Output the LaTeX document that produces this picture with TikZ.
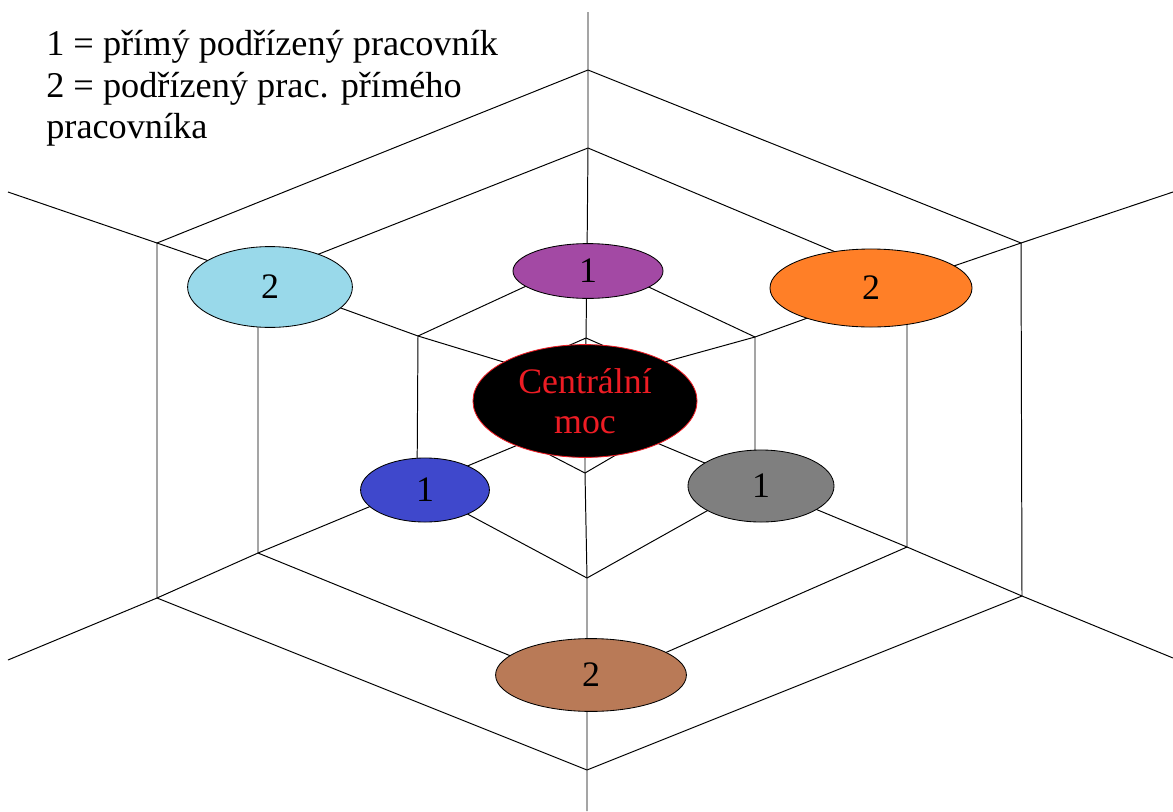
\documentclass[tikz,border=0pt]{standalone}
\usepackage{fontspec}
\setmainfont{Liberation Serif}
\usetikzlibrary{shapes.geometric}
\definecolor{lilac}{RGB}{163,73,164}
\definecolor{turquoise}{RGB}{153,217,234}
\definecolor{paintorange}{RGB}{255,127,39}
\definecolor{indigo}{RGB}{63,72,204}
\definecolor{paintgray}{RGB}{127,127,127}
\definecolor{paintbrown}{RGB}{185,122,87}
\definecolor{powerred}{RGB}{237,28,36}

\begin{document}
\begin{tikzpicture}[
        x=0.025cm, y=-0.025cm,
        web/.style={draw=black, line width=0.7pt, line join=round},
        member/.style={ellipse, draw=black, line width=0.6pt, inner sep=0pt, text=black, font=\fontsize{25.5}{29}\selectfont},
        core/.style={ellipse, draw=powerred, line width=0.6pt, fill=black, inner sep=0pt, text=powerred, align=center, font=\fontsize{25.5}{28.5}\selectfont},
        legend/.style={inner sep=0pt, align=left, font=\fontsize{25.8}{29.5}\selectfont}
    ]
    \useasboundingbox (0,0) rectangle (1173,811);

    % Centre of the web
    \coordinate (c) at (585,401);

    % Vertices: ring 0 (inner) to ring 3 (outer), then the free spoke ends
    \coordinate (t0) at (586,338);  \coordinate (t1) at (587,258);  \coordinate (t2) at (588,148);  \coordinate (t3) at (588,70);   \coordinate (te) at (588,12);
    \coordinate (r0) at (650,366);  \coordinate (r1) at (755,337);  \coordinate (r2) at (907,282);  \coordinate (r3) at (1021,243); \coordinate (re) at (1173,192);
    \coordinate (lr0) at (645,438); \coordinate (lr1) at (755,484); \coordinate (lr2) at (907,547); \coordinate (lr3) at (1022,596); \coordinate (lre) at (1173,658);
    \coordinate (b0) at (585,473);  \coordinate (b1) at (587,578);  \coordinate (b2) at (587,687);  \coordinate (b3) at (587,770);  \coordinate (be) at (587,811);
    \coordinate (ll0) at (525,442); \coordinate (ll1) at (417,487); \coordinate (ll2) at (258,553); \coordinate (ll3) at (157,598); \coordinate (lle) at (8,660);
    \coordinate (l0) at (520,367);  \coordinate (l1) at (418,336);  \coordinate (l2) at (258,278);  \coordinate (l3) at (157,243);  \coordinate (le) at (8,192);

    % Spokes
    \draw[web] (c) -- (t0) -- (t1) -- (t2) -- (t3) -- (te);
    \draw[web] (c) -- (r0) -- (r1) -- (r2) -- (r3) -- (re);
    \draw[web] (c) -- (lr0) -- (lr1) -- (lr2) -- (lr3) -- (lre);
    \draw[web] (c) -- (b0) -- (b1) -- (b2) -- (b3) -- (be);
    \draw[web] (c) -- (ll0) -- (ll1) -- (ll2) -- (ll3) -- (lle);
    \draw[web] (c) -- (l0) -- (l1) -- (l2) -- (l3) -- (le);

    % Hexagonal rings
    \draw[web] (t0) -- (r0) -- (lr0) -- (b0) -- (ll0) -- (l0) -- cycle;
    \draw[web] (t1) -- (r1) -- (lr1) -- (b1) -- (ll1) -- (l1) -- cycle;
    \draw[web] (t2) -- (r2) -- (lr2) -- (b2) -- (ll2) -- (l2) -- cycle;
    \draw[web] (t3) -- (r3) -- (lr3) -- (b3) -- (ll3) -- (l3) -- cycle;

    % Direct subordinates (1)
    \node[member, fill=lilac, minimum width=3.75cm, minimum height=1.37cm] (top_one) at (588,271) {1};
    \node[member, fill=indigo, minimum width=3.22cm, minimum height=1.6cm] (left_one) at (425,490) {1};
    \node[member, fill=paintgray, minimum width=3.65cm, minimum height=1.8cm] (right_one) at (761,486) {1};

    % Subordinates of direct subordinates (2)
    \node[member, fill=turquoise, minimum width=4.12cm, minimum height=2.02cm] (left_two) at (270,287) {2};
    \node[member, fill=paintorange, minimum width=5.05cm, minimum height=1.95cm] (right_two) at (871,288) {2};
    \node[member, fill=paintbrown, minimum width=4.77cm, minimum height=1.82cm] (bottom_two) at (591,675) {2};

    % Central power
    \node[core, minimum width=5.6cm, minimum height=2.82cm] (power) at (585,401) {Centrální\\moc};

    % Key
    \node[legend, anchor=north west] (key) at (46,30) {1 = přímý podřízený pracovník\\2 = podřízený prac. přímého\\pracovníka};

\end{tikzpicture}
\end{document}
